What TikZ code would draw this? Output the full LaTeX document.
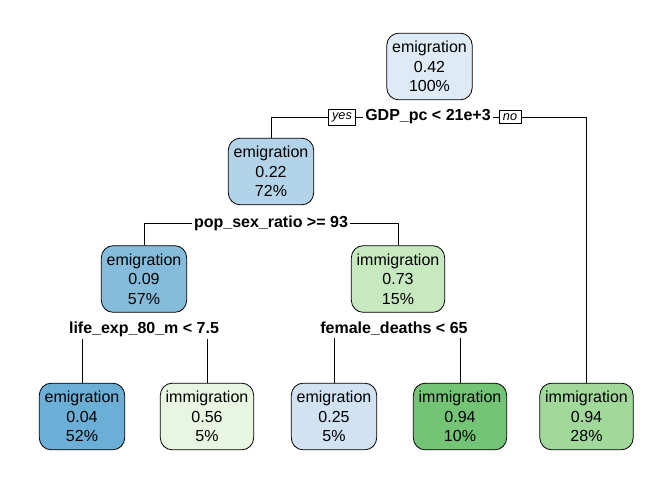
\documentclass[tikz,border=0pt]{standalone}
\usepackage{fontspec}
\setmainfont{Liberation Sans}
\definecolor{bluea}{HTML}{DEEAF6}
\definecolor{blueb}{HTML}{B3D3E8}
\definecolor{bluec}{HTML}{85BCDB}
\definecolor{blued}{HTML}{6BAED6}
\definecolor{bluee}{HTML}{D1E2F2}
\definecolor{greena}{HTML}{E8F5E1}
\definecolor{greenb}{HTML}{C7E9C0}
\definecolor{greenc}{HTML}{74C476}
\definecolor{greend}{HTML}{A1D99B}
\tikzset{
  treebox/.style={draw, rounded corners=9pt, align=center, inner xsep=4pt, inner ysep=3pt,
    minimum height=50pt, font=\fontsize{12}{14.5}\selectfont},
  splitlab/.style={inner sep=1.5pt, font=\bfseries\fontsize{12}{14}\selectfont},
  yesno/.style={draw, inner xsep=3pt, inner ysep=2.5pt, font=\itshape\fontsize{9.5}{10}\selectfont}
}
\begin{document}
\begin{tikzpicture}[x=0.75pt, y=-0.75pt, line width=0.6pt]
\useasboundingbox (0,0) rectangle (672,480);
% nodes of the tree
\node[treebox, fill=bluea] (root) at (429.5,66.5) {emigration\\0.42\\100\%};
\node[treebox, fill=blueb] (n1) at (271,171.5) {emigration\\0.22\\72\%};
\node[treebox, fill=bluec] (n2) at (144,279) {emigration\\0.09\\57\%};
\node[treebox, fill=greenb] (n3) at (398,279) {immigration\\0.73\\15\%};
\node[treebox, fill=blued] (leafa) at (82,416.5) {emigration\\0.04\\52\%};
\node[treebox, fill=greena] (leafb) at (207,416.5) {immigration\\0.56\\5\%};
\node[treebox, fill=bluee] (leafc) at (334,416.5) {emigration\\0.25\\5\%};
\node[treebox, fill=greenc] (leafd) at (460,416.5) {immigration\\0.94\\10\%};
\node[treebox, fill=greend] (leafe) at (586.5,416.5) {immigration\\0.94\\28\%};

% split labels
\node[splitlab] (sa) at (428,117) {GDP\_pc < 21e+3};
\node[yesno] (yes) at (342,117) {yes};
\node[yesno] (no) at (510,117) {no};
\node[splitlab] (sb) at (271,223) {pop\_sex\_ratio >= 93};
\node[splitlab] (sc) at (144,329) {life\_exp\_80\_m < 7.5};
\node[splitlab] (sd) at (394,329) {female\_deaths < 65};

% connectors
\draw (sa.west) -- (yes.east);
\draw (yes.west) -| (n1.north);
\draw (sa.east) -- (no.west);
\draw (no.east) -| (leafe.north);
\draw (sb.west) -| (n2.north);
\draw (sb.east) -| (n3.north);
\draw (leafa.north) -- (leafa.north |- sc.south);
\draw (leafb.north) -- (leafb.north |- sc.south);
\draw (leafc.north) -- (leafc.north |- sd.south);
\draw (leafd.north) -- (leafd.north |- sd.south);
\end{tikzpicture}
\end{document}
